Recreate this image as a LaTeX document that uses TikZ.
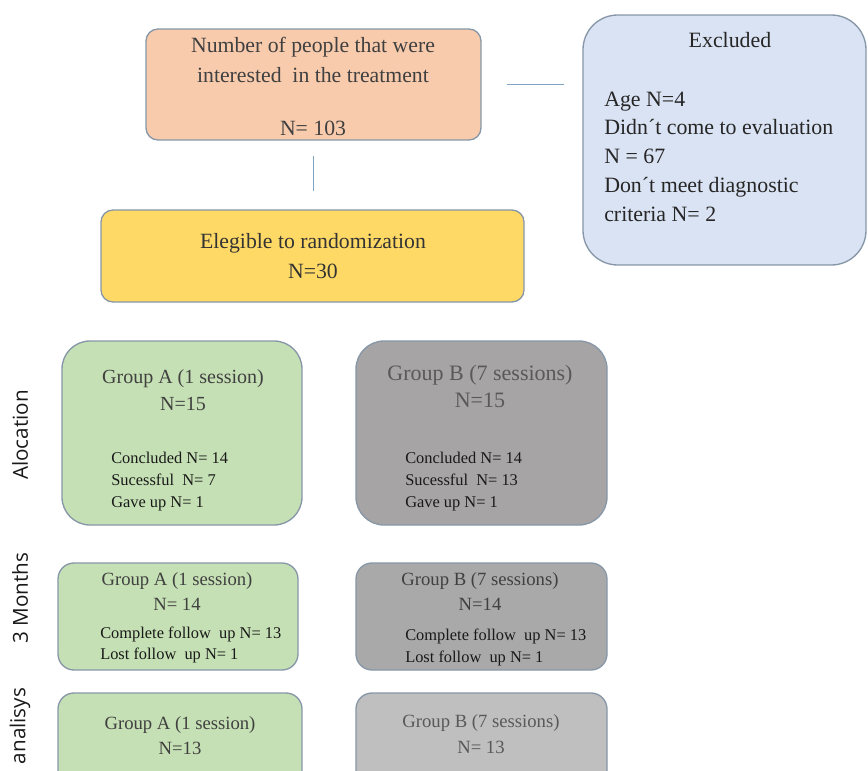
\documentclass[tikz,border=0pt]{standalone}
\usepackage{fontspec}
\setmainfont{Liberation Serif}
\setsansfont{Open Sans}
\usetikzlibrary{positioning}

\definecolor{peach}{HTML}{F8CBAD}
\definecolor{paleblue}{HTML}{DAE3F3}
\definecolor{gold}{HTML}{FFD966}
\definecolor{palegreen}{HTML}{C5E0B4}
\definecolor{midgray}{HTML}{A6A4A5}
\definecolor{lightgray}{HTML}{BFBFBF}
\definecolor{edgegray}{HTML}{8797A8}
\definecolor{linkblue}{HTML}{7FA3C2}
\definecolor{inkgray}{HTML}{404040}
\definecolor{inkmid}{HTML}{595959}

\tikzset{
  box/.style={draw=edgegray, line width=1pt, rounded corners=#1, inner sep=0pt},
  box/.default=9pt,
  headtext/.style={text=inkgray, align=center, font=\fontsize{16.3}{22.5}\selectfont},
  listtext/.style={text=black!85, align=left, inner sep=0pt, font=\fontsize{16.4}{21.6}\selectfont},
  smalltext/.style={text=black!90, align=left, anchor=west, inner sep=0pt, font=\fontsize{12.3}{16.2}\selectfont},
  sidetext/.style={rotate=90, text=black!90, font=\sffamily\fontsize{15.5}{17}\selectfont},
  link/.style={draw=linkblue, line width=1pt}
}

\begin{document}
\begin{tikzpicture}[x=0.75pt, y=-0.75pt]
    \clip (0,0) rectangle (868,771);

    % Top row
    \node[box, fill=peach, minimum width=251.25pt, minimum height=83.25pt] (people) at (313.5,84.5) {};
    \node[headtext] (peopletxt) at (313,60) {Number of people that were\\interested\ \ in the treatment};
    \node[headtext] (peoplen) at (313,128) {N= 103};

    \node[box=26pt, fill=paleblue, minimum width=212.25pt, minimum height=187.5pt] (excluded) at (724.5,140) {};
    \node[listtext, align=center] (excludedtitle) at (730,40) {Excluded};
    \node[listtext, anchor=west] (excludedlist) at (604,156.5) {Age N=4\\Didn´t come to evaluation\\N = 67\\Don´t meet diagnostic\\criteria N= 2};

    % Randomization
    \node[box, fill=gold, minimum width=317.25pt, minimum height=69pt] (eligible) at (312.5,256) {};
    \node[headtext, text=black!80] (eligibletxt) at (313,256.5) {Elegible to randomization\\N=30};

    \draw[link, shorten <=18.75pt, shorten >=13.5pt] (people.east) -- (people.east -| excluded.west);
    \draw[link, shorten <=11.25pt, shorten >=13.5pt] (people.south) -- (people.south |- eligible.north);

    % Alocation
    \node[box=21pt, fill=palegreen, minimum width=180pt, minimum height=138pt] (allocA) at (182,433) {};
    \node[headtext, font=\fontsize{15}{20}\selectfont] (allocAhead) at (183,390) {Group A (1 session)\\N=15};
    \node[smalltext] (allocAlist) at (111,481.5) {Concluded N= 14\\Sucessful\ \ N= 7\\Gave up N= 1};

    \node[box=21pt, fill=midgray, minimum width=188.25pt, minimum height=138pt] (allocB) at (481.5,433) {};
    \node[headtext, text=inkmid, font=\fontsize{16.5}{20}\selectfont] (allocBhead) at (480,386.5) {Group B (7 sessions)\\N=15};
    \node[smalltext] (allocBlist) at (405,481.5) {Concluded N= 14\\Sucessful\ \ N= 13\\Gave up N= 1};

    % 3 Months
    \node[box=12pt, fill=palegreen, minimum width=180pt, minimum height=80.25pt] (monthsA) at (178,616.5) {};
    \node[headtext, font=\fontsize{14}{19}\selectfont] (monthsAhead) at (177,591.5) {Group A (1 session)\\N= 14};
    \node[smalltext] (monthsAlist) at (100,645) {Complete follow\ \ up N= 13\\Lost follow\ \ up N= 1};

    \node[box=12pt, fill=midgray!95!white, minimum width=188.25pt, minimum height=80.25pt] (monthsB) at (481.5,616.5) {};
    \node[headtext, font=\fontsize{14}{19}\selectfont] (monthsBhead) at (480,591.5) {Group B (7 sessions)\\N=14};
    \node[smalltext] (monthsBlist) at (405,647.5) {Complete follow\ \ up N= 13\\Lost follow\ \ up N= 1};

    % Analisys
    \node[box=12pt, fill=palegreen, minimum width=183pt, minimum height=80.25pt] (analysisA) at (180,746.5) {};
    \node[headtext, font=\fontsize{14}{19}\selectfont] (analysisAhead) at (180,735.5) {Group A (1 session)\\N=13};

    \node[box=12pt, fill=lightgray, minimum width=188.25pt, minimum height=80.25pt] (analysisB) at (481.5,746.5) {};
    \node[headtext, text=inkmid, font=\fontsize{14}{19}\selectfont] (analysisBhead) at (481,734) {Group B (7 sessions)\\N= 13};

    % Side labels
    \node[sidetext] (alocationlbl) at (20,435) {Alocation};
    \node[sidetext] (monthslbl) at (20,598) {3 Months};
    \node[sidetext] (analisyslbl) at (20,726) {analisys};
\end{tikzpicture}
\end{document}
